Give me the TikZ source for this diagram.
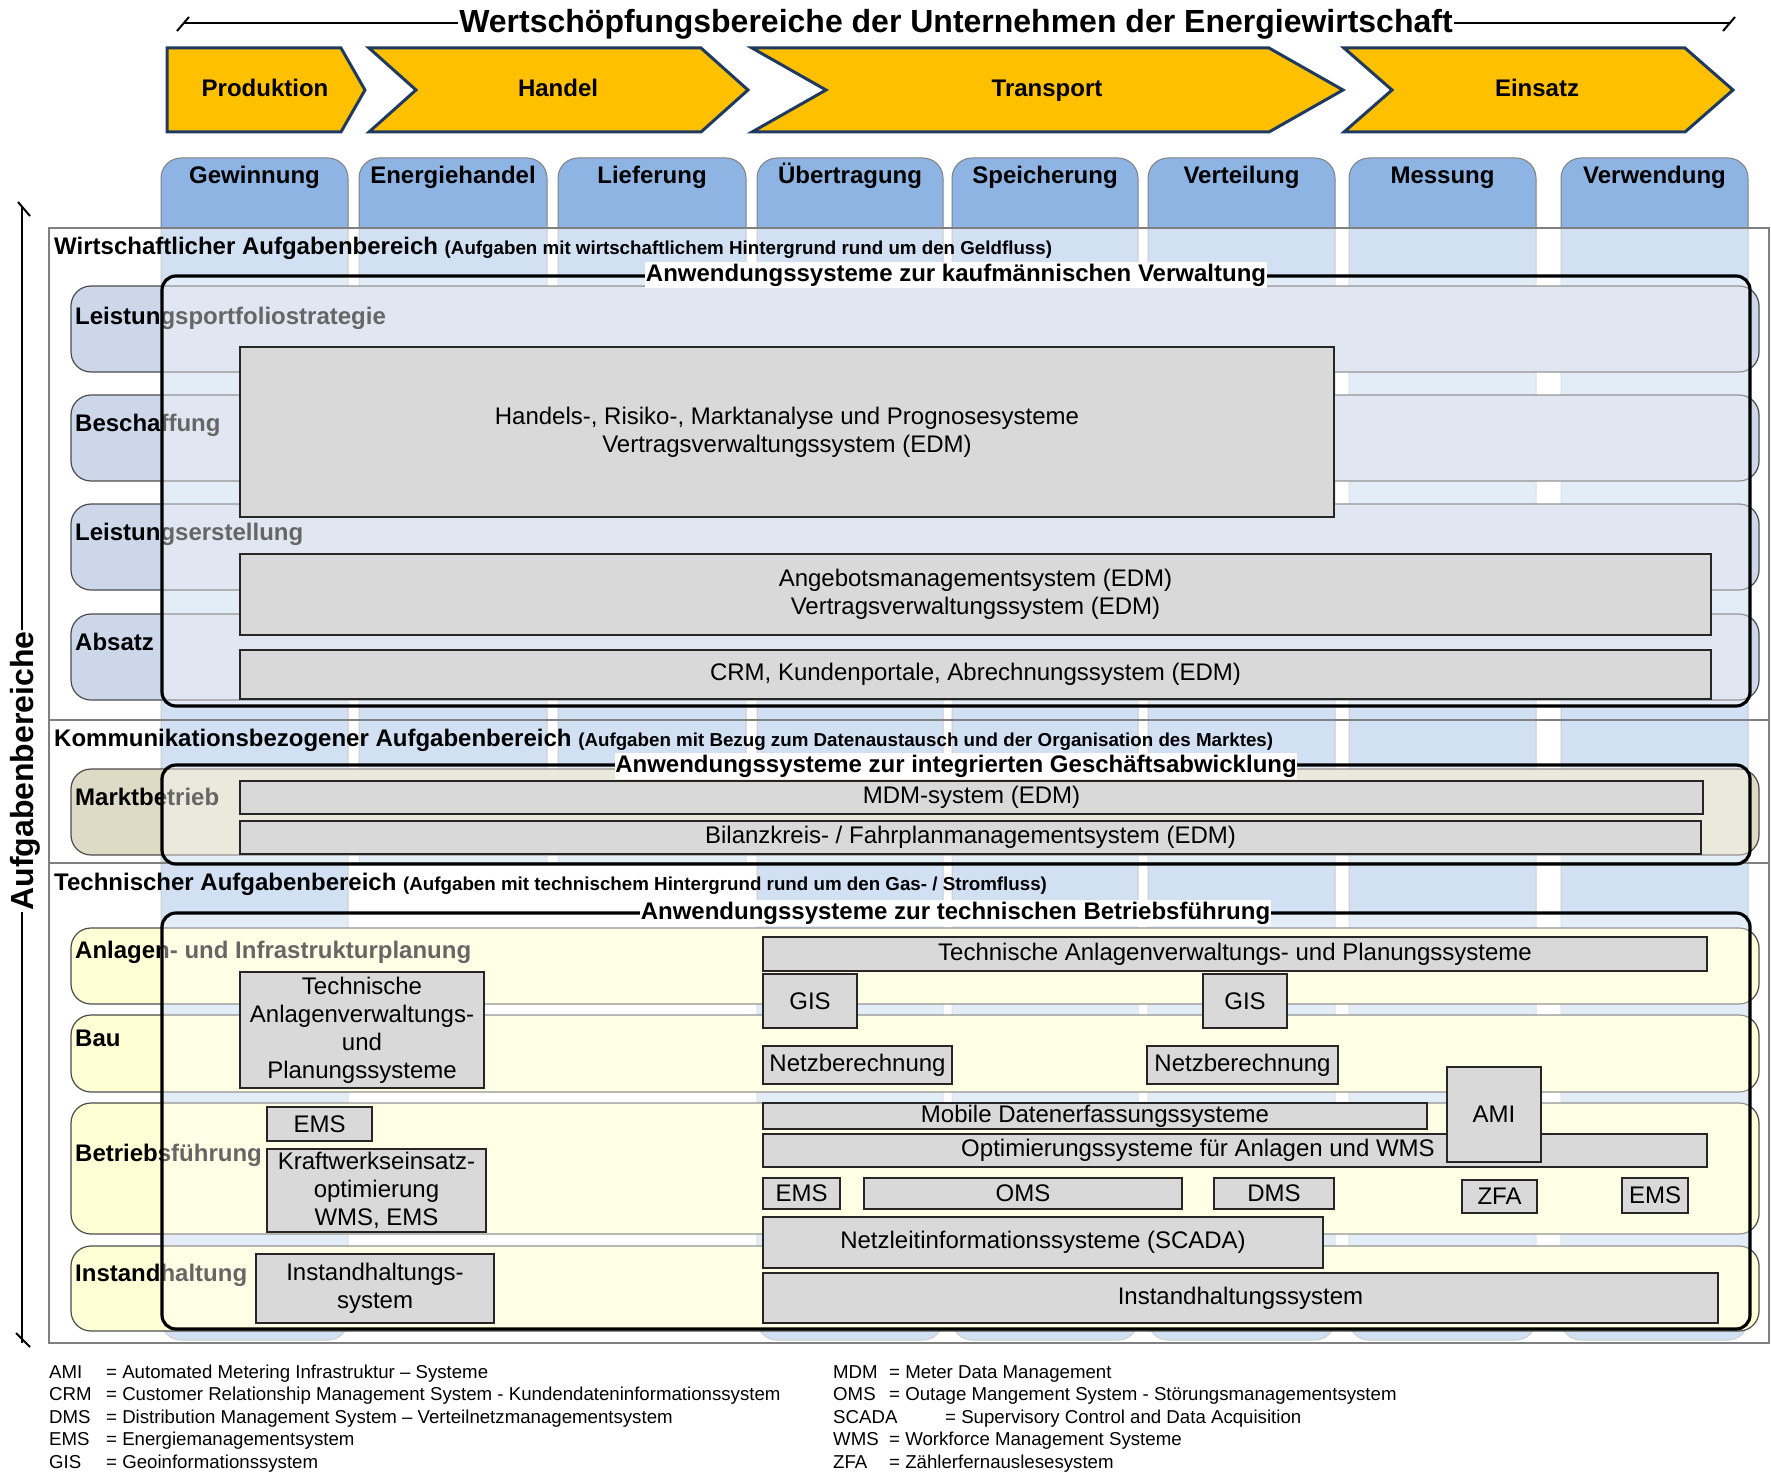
\documentclass[tikz,border=0pt]{standalone}
\usepackage{fontspec}
\setmainfont{Liberation Sans}
\definecolor{chev}{HTML}{FFC000}
\definecolor{chevline}{HTML}{1F3A5F}
\definecolor{colblue}{HTML}{8EB4E3}
\definecolor{rowblue}{HTML}{CCD8EA}
\definecolor{rowkhaki}{HTML}{DDDBC6}
\definecolor{rowyellow}{HTML}{FFFFD6}
\definecolor{boxgray}{HTML}{D9D9D9}
\newcommand\fA{\fontsize{24}{28}\selectfont}
\newcommand\fT{\fontsize{32}{36}\selectfont\bfseries}
\newcommand\fP{\fontsize{18.75}{22}\selectfont\bfseries}
\newcommand\fL{\fontsize{18.65}{22}\selectfont}
\tikzset{
 chevron/.style={fill=chev, draw=chevline, line width=3pt, line join=miter},
 chevlabel/.style={font=\fA\bfseries, inner sep=0pt, anchor=base},
 colbox/.style={fill=colblue, draw=gray, line width=1pt, rounded corners=20pt},
 colhead/.style={font=\fA\bfseries, anchor=base, inner sep=0pt},
 area/.style={fill=white, fill opacity=0.6, draw=gray, draw opacity=1, line width=1.5pt},
 rowbox/.style={draw=black!70, line width=1.2pt, rounded corners=20pt},
 rowlabel/.style={font=\fA\bfseries, anchor=base west, inner sep=0pt},
 bigframe/.style={draw=black, line width=3.2pt, rounded corners=14pt, fill=white, fill opacity=0.4, draw opacity=1},
 frametitle/.style={font=\fA\bfseries, fill=white, inner xsep=0.5pt, inner ysep=1.5pt},
 gbox/.style={draw=black!85, line width=1.8pt, fill=boxgray, inner sep=0pt, align=center, font=\fA},
 btext/.style={font=\fA, inner sep=0pt, align=center},
 areahead/.style={anchor=base west, inner sep=0pt, font=\fA\bfseries},
 legend/.style={anchor=base west, inner sep=0pt, font=\fL},
 thinline/.style={draw=black, line width=2pt},
}
\newcommand\gb[6]{\node[gbox, minimum width={(#4)-(#2)}, minimum height={(#5)-(#3)}] (#1) at ({((#2)+(#4))/2},{((#3)+(#5))/2}) {#6};}
\begin{document}
\begin{tikzpicture}[x=1pt,y=-1pt]
\useasboundingbox (0,0) rectangle (1771,1482);

% ---- title line
\coordinate (tl) at (183,23);
\coordinate (tr) at (1730,23);
\draw[thinline] (tl) -- (tr);
\draw[thinline] ([shift={(-6,8)}]tl) -- ([shift={(6,-6)}]tl);
\draw[thinline] ([shift={(-7,8)}]tr) -- ([shift={(5,-6)}]tr);
\node[font=\fT, fill=white, inner xsep=1pt, inner ysep=0pt, anchor=base] (title) at (956,33) {Wertschöpfungsbereiche der Unternehmen der Energiewirtschaft};

% ---- chevrons
\draw[chevron] (167,48) -- (341,48) -- (365,90) -- (341,132) -- (167,132) -- cycle;
\draw[chevron] (369,48) -- (701,48) -- (748,90) -- (701,132) -- (369,132) -- (416,90) -- cycle;
\draw[chevron] (752,48) -- (1269,48) -- (1343,90) -- (1269,132) -- (752,132) -- (826,90) -- cycle;
\draw[chevron] (1344,48) -- (1685,48) -- (1733,90) -- (1685,132) -- (1344,132) -- (1392,90) -- cycle;
\node[chevlabel] (produktion) at (265,97) {Produktion};
\node[chevlabel] (handel) at (558,97) {Handel};
\node[chevlabel] (transport) at (1047,97) {Transport};
\node[chevlabel] (einsatz) at (1537,97) {Einsatz};

% ---- columns
\draw[colbox] (161,158) rectangle (348,1340);
\begin{scope}
 \clip (0,0) rectangle (1771,863);
 \draw[colbox] (359,158) rectangle (547,920);
 \draw[colbox] (558,158) rectangle (746,920);
\end{scope}
\draw[colbox] (757,158) rectangle (943,1340);
\draw[colbox] (952,158) rectangle (1138,1340);
\draw[colbox] (1148,158) rectangle (1335,1340);
\draw[colbox] (1349,158) rectangle (1536,1340);
\draw[colbox] (1561,158) rectangle (1748,1340);
\node[colhead] (c1) at (254.5,184) {Gewinnung};
\node[colhead] (c2) at (453,184) {Energiehandel};
\node[colhead] (c3) at (652,184) {Lieferung};
\node[colhead] (c4) at (850,184) {Übertragung};
\node[colhead] (c5) at (1045,184) {Speicherung};
\node[colhead] (c6) at (1241.5,184) {Verteilung};
\node[colhead] (c7) at (1442.5,184) {Messung};
\node[colhead] (c8) at (1654.5,184) {Verwendung};

% ---- areas
\draw[area] (49,228) rectangle (1769,720);
\draw[area] (49,720) rectangle (1769,863);
\draw[area] (49,863) rectangle (1769,1343);

% ---- rows
\draw[rowbox, fill=rowblue] (71,286) rectangle (1759,372);
\draw[rowbox, fill=rowblue] (71,395) rectangle (1759,481);
\draw[rowbox, fill=rowblue] (71,504) rectangle (1759,590);
\draw[rowbox, fill=rowblue] (71,614) rectangle (1759,700);
\draw[rowbox, fill=rowkhaki] (71,769) rectangle (1759,855);
\draw[rowbox, fill=rowyellow] (71,928) rectangle (1759,1004);
\draw[rowbox, fill=rowyellow] (71,1015) rectangle (1759,1092);
\draw[rowbox, fill=rowyellow] (71,1103) rectangle (1759,1234);
\draw[rowbox, fill=rowyellow] (71,1246) rectangle (1759,1331);
\node[rowlabel] (r1) at (75,324) {Leistungsportfoliostrategie};
\node[rowlabel] (r2) at (75,431) {Beschaffung};
\node[rowlabel] (r3) at (75,540) {Leistungserstellung};
\node[rowlabel] (r4) at (75,650) {Absatz};
\node[rowlabel] (r5) at (75,805) {Marktbetrieb};
\node[rowlabel] (r6) at (75,958) {Anlagen- und Infrastrukturplanung};
\node[rowlabel] (r7) at (75,1046) {Bau};
\node[rowlabel] (r8) at (75,1161) {Betriebsführung};
\node[rowlabel] (r9) at (75,1281) {Instandhaltung};

% ---- area headers
\node[areahead] (h1) at (54,254) {Wirtschaftlicher Aufgabenbereich {\fP (Aufgaben mit wirtschaftlichem Hintergrund rund um den Geldfluss)}};
\node[areahead] (h2) at (54,746) {Kommunikationsbezogener Aufgabenbereich {\fP (Aufgaben mit Bezug zum Datenaustausch und der Organisation des Marktes)}};
\node[areahead] (h3) at (54,890) {Technischer Aufgabenbereich {\fP (Aufgaben mit technischem Hintergrund rund um den Gas- / Stromfluss)}};

% ---- big frames
\draw[bigframe] (162,276) rectangle (1750,706);
\draw[bigframe] (162,765) rectangle (1750,864);
\draw[bigframe] (162,913) rectangle (1750,1329);

% ---- boxes: economic
\gb{b1}{240}{347}{1334}{517}{Handels-, Risiko-, Marktanalyse und Prognosesysteme\\Vertragsverwaltungssystem (EDM)}
\gb{b2}{240}{554}{1711}{635}{Angebotsmanagementsystem (EDM)\\Vertragsverwaltungssystem (EDM)}
\gb{b3}{240}{650}{1711}{699}{CRM, Kundenportale, Abrechnungssystem (EDM)}
\gb{b4}{240}{781}{1703}{814}{MDM-system (EDM)}
\gb{b5}{240}{821}{1701}{854}{Bilanzkreis- / Fahrplanmanagementsystem (EDM)}

% ---- boxes: technical
\gb{t1}{240}{972}{484}{1088}{Technische\\Anlagenverwaltungs-\\und\\Planungssysteme}
\gb{t2}{267}{1107}{372}{1141}{EMS}
\gb{t3}{267}{1149}{486}{1232}{Kraftwerkseinsatz-\\optimierung\\WMS, EMS}
\gb{t4}{256}{1254}{494}{1323}{Instandhaltungs-\\system}
\gb{t5}{763}{937}{1707}{971}{Technische Anlagenverwaltungs- und Planungssysteme}
\gb{t6}{763}{974}{857}{1028}{GIS}
\gb{t7}{1203}{974}{1287}{1028}{GIS}
\gb{t8}{763}{1046}{952}{1084}{Netzberechnung}
\gb{t9}{1147}{1046}{1338}{1084}{Netzberechnung}
\gb{t10}{763}{1103}{1427}{1129}{Mobile Datenerfassungssysteme}
\gb{t11}{763}{1134}{1707}{1167}{}
\node[btext] (t11t) at (1198,1150.5) {Optimierungssysteme für Anlagen und WMS};
\gb{t12}{1447}{1067}{1541}{1162}{AMI}
\gb{t13}{763}{1178}{840}{1209}{EMS}
\gb{t14}{864}{1178}{1182}{1209}{OMS}
\gb{t15}{1214}{1178}{1334}{1209}{DMS}
\gb{t16}{1462}{1180}{1537}{1213}{ZFA}
\gb{t17}{1622}{1178}{1688}{1213}{EMS}
\gb{t18}{763}{1217}{1323}{1268}{Netzleitinformationssysteme (SCADA)}
\gb{t19}{763}{1273}{1718}{1323}{Instandhaltungssystem}

% ---- frame titles
\node[frametitle] (f1) at (956,275) {Anwendungssysteme zur kaufmännischen Verwaltung};
\node[frametitle] (f2) at (956,766) {Anwendungssysteme zur integrierten Geschäftsabwicklung};
\node[frametitle] (f3) at (955.5,913) {Anwendungssysteme zur technischen Betriebsführung};

% ---- vertical axis
\coordinate (vt) at (22,206);
\coordinate (vb) at (22,1343);
\draw[thinline] (vt) -- (vb);
\draw[thinline] ([shift={(-4,-4)}]vt) -- ([shift={(8,10)}]vt);
\draw[thinline] ([shift={(-6,-10)}]vb) -- ([shift={(8,4)}]vb);
\node[font=\fT, fill=white, rotate=90, anchor=base, inner xsep=1pt, inner ysep=0pt] (vlabel) at (33,771) {Aufgabenbereiche};

% ---- legend
\node[legend] (la1) at (49,1378) {AMI};
\node[legend] (la2) at (106,1378) {= Automated Metering Infrastruktur – Systeme};
\node[legend] (lb1) at (49,1400.5) {CRM};
\node[legend] (lb2) at (106,1400.5) {= Customer Relationship Management System - Kundendateninformationssystem};
\node[legend] (lc1) at (49,1423) {DMS};
\node[legend] (lc2) at (106,1423) {= Distribution Management System – Verteilnetzmanagementsystem};
\node[legend] (ld1) at (49,1445.5) {EMS};
\node[legend] (ld2) at (106,1445.5) {= Energiemanagementsystem};
\node[legend] (le1) at (49,1468) {GIS};
\node[legend] (le2) at (106,1468) {= Geoinformationssystem};
\node[legend] (lf1) at (833,1378) {MDM};
\node[legend] (lf2) at (889,1378) {= Meter Data Management};
\node[legend] (lg1) at (833,1400.5) {OMS};
\node[legend] (lg2) at (889,1400.5) {= Outage Mangement System - Störungsmanagementsystem};
\node[legend] (lh1) at (833,1423) {SCADA};
\node[legend] (lh2) at (945,1423) {= Supervisory Control and Data Acquisition};
\node[legend] (li1) at (833,1445.5) {WMS};
\node[legend] (li2) at (889,1445.5) {= Workforce Management Systeme};
\node[legend] (lj1) at (833,1468) {ZFA};
\node[legend] (lj2) at (889,1468) {= Zählerfernauslesesystem};
\end{tikzpicture}
\end{document}
